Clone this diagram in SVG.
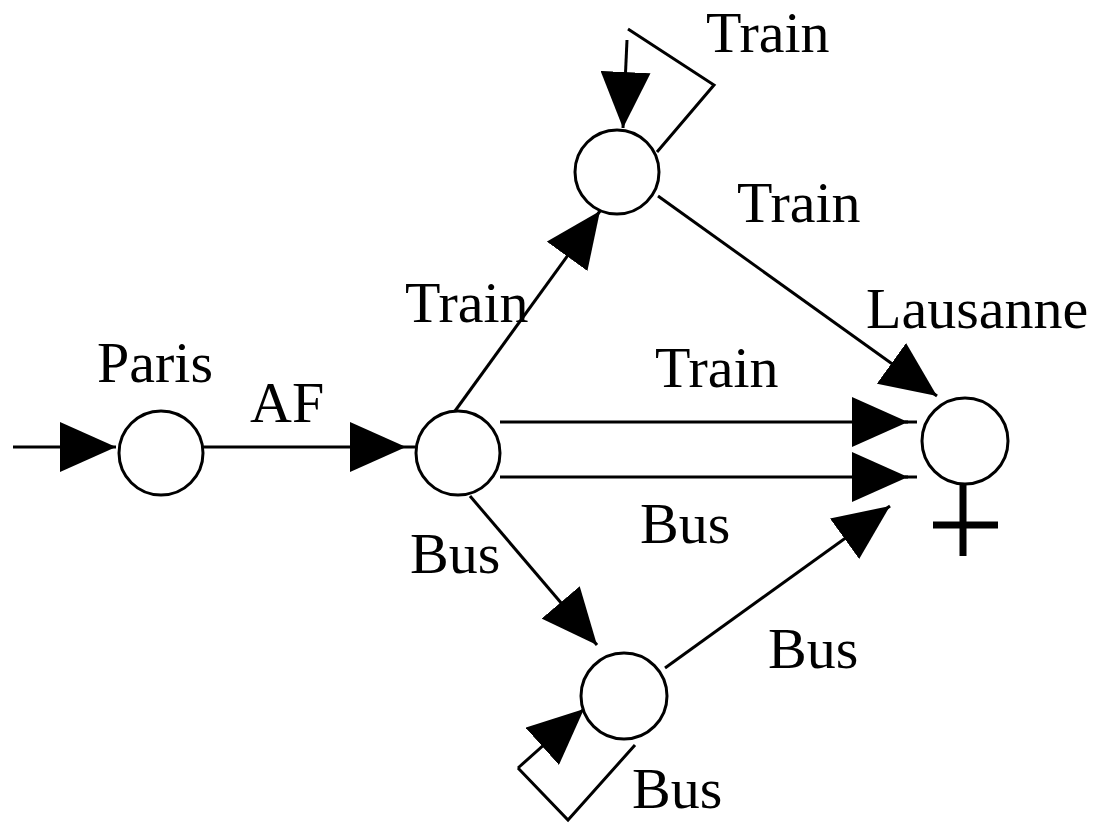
<svg xmlns="http://www.w3.org/2000/svg" width="1102" height="825" viewBox="0 0 1102 825">
<style>
.n{fill:#fff;stroke:#000;stroke-width:3}
.e{fill:none;stroke:#000;stroke-width:3}
.t{font-family:"Liberation Serif","Times New Roman",serif;font-size:58px;fill:#000}
</style>
<defs>
<marker id="ah" markerUnits="userSpaceOnUse" markerWidth="56" markerHeight="50" refX="56" refY="25" orient="auto" viewBox="0 0 56 50">
<path d="M0,0 L56,25 L0,50 Z" fill="#000"/>
</marker>
</defs>
<g id="edges">
<line class="e" x1="13" y1="447" x2="116" y2="447" marker-end="url(#ah)"/>
<line class="e" x1="203" y1="447" x2="406" y2="447" marker-end="url(#ah)"/>
<line class="e" x1="406" y1="447" x2="417" y2="447"/>
<line class="e" x1="455" y1="411" x2="600" y2="211" marker-end="url(#ah)"/>
<line class="e" x1="470" y1="496" x2="597" y2="645" marker-end="url(#ah)"/>
<line class="e" x1="500" y1="422" x2="908" y2="422" marker-end="url(#ah)"/>
<line class="e" x1="905" y1="422" x2="917" y2="422"/>
<line class="e" x1="500" y1="477" x2="908" y2="477" marker-end="url(#ah)"/>
<line class="e" x1="905" y1="477" x2="917" y2="477"/>
<line class="e" x1="658" y1="196" x2="937" y2="396" marker-end="url(#ah)"/>
<line class="e" x1="665" y1="668" x2="890" y2="506" marker-end="url(#ah)"/>
<polyline class="e" points="657,152 714,85 628,29"/>
<line class="e" x1="627" y1="40" x2="623" y2="128" marker-end="url(#ah)"/>
<polyline class="e" points="635,745 568,820 518,768"/>
<line class="e" x1="518" y1="768" x2="584" y2="709" marker-end="url(#ah)"/>
</g>
<g id="paris"><circle class="n" cx="161" cy="453" r="42"/><text class="t" x="97" y="382">Paris</text></g>
<g id="hub"><circle class="n" cx="458" cy="453" r="42"/></g>
<g id="top"><circle class="n" cx="617" cy="172" r="42"/></g>
<g id="bottom"><circle class="n" cx="624" cy="696" r="43"/></g>
<g id="lausanne"><circle class="n" cx="965" cy="441" r="43"/>
<line x1="963" y1="484" x2="963" y2="556" stroke="#000" stroke-width="7"/>
<line x1="933" y1="525" x2="998" y2="525" stroke="#000" stroke-width="7"/>
<text class="t" x="866" y="328">Lausanne</text></g>
<g id="labels">
<text class="t" x="250" y="422">AF</text>
<text class="t" x="706" y="52">Train</text>
<text class="t" x="737" y="222">Train</text>
<text class="t" x="405" y="322">Train</text>
<text class="t" x="655" y="387">Train</text>
<text class="t" x="410" y="573">Bus</text>
<text class="t" x="640" y="543">Bus</text>
<text class="t" x="768" y="668">Bus</text>
<text class="t" x="632" y="808">Bus</text>
</g>
</svg>
